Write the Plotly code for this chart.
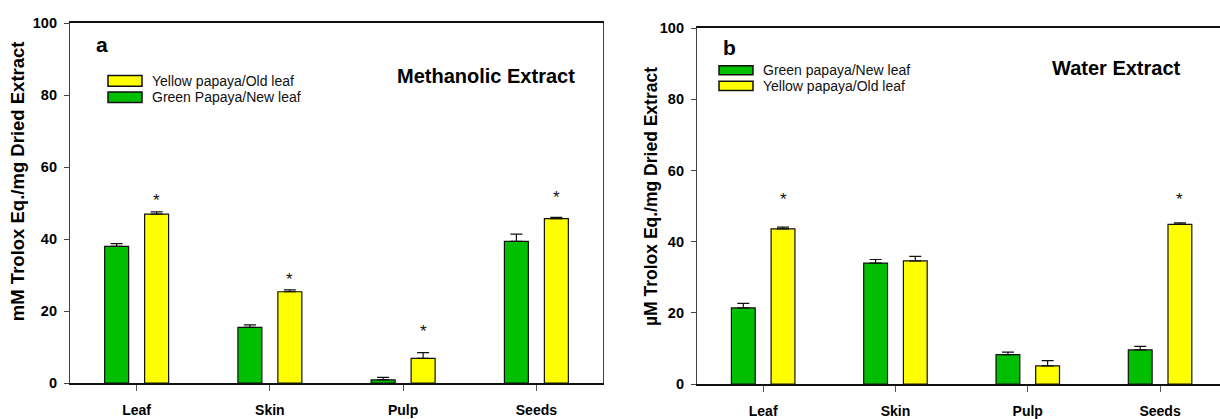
import plotly.graph_objects as go

# ---- data -------------------------------------------------------------
categories = ["Leaf", "Skin", "Pulp", "Seeds"]

# Methanolic extract (mM Trolox Eq./mg dried extract)
meth_green = [38.0, 15.5, 0.9, 39.4]
meth_green_err = [0.8, 0.7, 0.7, 2.0]
meth_yellow = [47.0, 25.4, 6.9, 45.7]
meth_yellow_err = [0.6, 0.5, 1.6, 0.4]
meth_star_y = [52.0, 29.9, 15.5, 52.6]

# Water extract (µM Trolox Eq./mg dried extract)
water_green = [21.4, 34.0, 8.3, 9.6]
water_green_err = [1.3, 1.0, 0.7, 1.0]
water_yellow = [43.6, 34.6, 5.1, 44.9]
water_yellow_err = [0.5, 1.3, 1.5, 0.4]
water_star_y = [53.1, None, None, 53.1]

y_ticks = [0, 20, 40, 60, 80, 100]

green_label_a = "Green Papaya/New leaf"
yellow_label_a = "Yellow papaya/Old leaf"
green_label_b = "Green papaya/New leaf"
yellow_label_b = "Yellow papaya/Old leaf"

title_a = "Methanolic Extract"
title_b = "Water Extract"
ytitle_a = "mM Trolox Eq./mg Dried Extract"
ytitle_b = "µM Trolox Eq./mg Dried Extract"

# ---- style ------------------------------------------------------------
W, H = 1220, 419
GREEN = "#00BF00"
YELLOW = "#FFFF00"
FONT = "Arial, 'Liberation Sans', sans-serif"


def px(x):
    return x / W


def py(y):
    return 1 - y / H


fig = go.Figure()


def add_bars(xa, ya, values, errs, color, name):
    fig.add_trace(go.Bar(
        x=categories, y=values, name=name, xaxis=xa, yaxis=ya,
        marker=dict(color=color, line=dict(color="#111", width=1.2)),
        error_y=dict(type="data", array=errs, arrayminus=[0] * len(errs),
                     symmetric=False, color="#111", thickness=1.2, width=6),
        showlegend=False,
    ))


add_bars("x", "y", meth_green, meth_green_err, GREEN, green_label_a)
add_bars("x", "y", meth_yellow, meth_yellow_err, YELLOW, yellow_label_a)
add_bars("x2", "y2", water_green, water_green_err, GREEN, green_label_b)
add_bars("x2", "y2", water_yellow, water_yellow_err, YELLOW, yellow_label_b)

annotations = []
shapes = []

# significance markers above the yellow bars
for xr, yr, stars in (("x", "y", meth_star_y), ("x2", "y2", water_star_y)):
    for i, sy in enumerate(stars):
        if sy is None:
            continue
        annotations.append(dict(
            x=i + 0.15, y=sy, xref=xr, yref=yr, text="*", showarrow=False,
            font=dict(family=FONT, size=17, color="#111"),
            xanchor="center", yanchor="middle", yshift=-4,
        ))


# legend boxes drawn as patches + labels
def legend_row(x0, yc, h, color, label):
    shapes.append(dict(
        type="rect", xref="paper", yref="paper",
        x0=px(x0), x1=px(x0 + 34), y0=py(yc + h / 2), y1=py(yc - h / 2),
        fillcolor=color, line=dict(color="#111", width=1.5),
    ))
    annotations.append(dict(
        x=px(x0 + 42), y=py(yc), xref="paper", yref="paper", text=label,
        showarrow=False, xanchor="left", yanchor="middle",
        font=dict(family=FONT, size=14, color="#111"),
    ))


legend_row(108, 75.8, 11, YELLOW, yellow_label_a)
legend_row(108, 92.8, 11, GREEN, green_label_a)
legend_row(719, 64.7, 9.5, GREEN, green_label_b)
legend_row(719, 81.0, 9.5, YELLOW, yellow_label_b)

# panel letters and panel titles
for txt, x, y in (("a", 102, 38), ("b", 729, 41.5)):
    annotations.append(dict(
        x=px(x), y=py(y), xref="paper", yref="paper", text=txt,
        showarrow=False, xanchor="center", yanchor="middle",
        font=dict(family=FONT, size=21, color="#000", weight="bold"),
    ))
for txt, x, y in ((title_a, 577, 71), (title_b, 1183, 62.5)):
    annotations.append(dict(
        x=px(x), y=py(y), xref="paper", yref="paper", text=txt,
        showarrow=False, xanchor="right", yanchor="middle",
        font=dict(family=FONT, size=20, color="#000", weight="bold"),
    ))

# y-axis titles
for txt, x, y, size in ((ytitle_a, 17, 180, 18.5), (ytitle_b, 651, 196.5, 17.5)):
    annotations.append(dict(
        x=px(x), y=py(y), xref="paper", yref="paper", text=txt,
        showarrow=False, xanchor="center", yanchor="middle", textangle=-90,
        font=dict(family=FONT, size=size, color="#000", weight="bold"),
    ))

xaxis_common = dict(
    type="category", categoryorder="array", categoryarray=categories,
    showline=True, linecolor="#111", linewidth=1.6,
    ticks="outside", ticklen=6, tickwidth=1, tickcolor="#555",
    ticklabelstandoff=7,
    tickfont=dict(family=FONT, size=14, color="#000", weight="bold"),
    showgrid=False, zeroline=False, fixedrange=True,
)
yaxis_common = dict(
    range=[0, 100], tickvals=y_ticks,
    showline=True, linecolor="#444", linewidth=1.2,
    ticks="outside", ticklen=5, tickwidth=1, tickcolor="#444",
    ticklabelstandoff=4,
    tickfont=dict(family=FONT, size=14.5, color="#000", weight="bold"),
    showgrid=False, zeroline=False, fixedrange=True,
)

fig.update_layout(
    width=W, height=H,
    margin=dict(l=0, r=0, t=0, b=0),
    paper_bgcolor="white", plot_bgcolor="white",
    barmode="group", bargap=0.4, bargroupgap=0.4,
    xaxis=dict(xaxis_common, domain=[px(70), px(603)], range=[-0.5, 3.5],
               mirror=True, anchor="y"),
    yaxis=dict(yaxis_common, domain=[py(390), py(16)], mirror=True,
               anchor="x"),
    xaxis2=dict(xaxis_common, domain=[px(697), 1.0], range=[-0.5, 3.453],
                mirror=True, anchor="y2"),
    yaxis2=dict(yaxis_common, domain=[py(391), py(21)], mirror=False,
                anchor="x2"),
    annotations=annotations,
    shapes=shapes,
    showlegend=False,
)

fig.write_html("out.html")
